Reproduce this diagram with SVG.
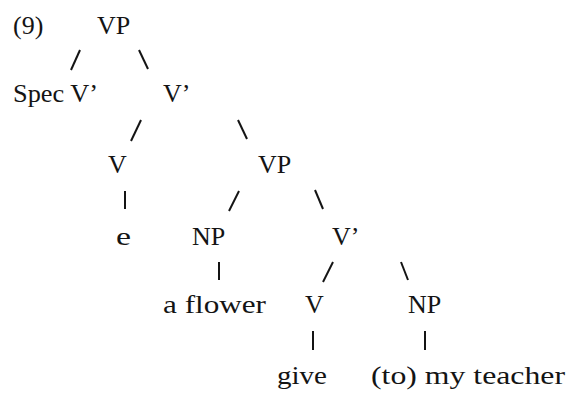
<svg xmlns="http://www.w3.org/2000/svg" width="568" height="397" viewBox="0 0 568 397">
  <style>
    .lbl { font-family: "Liberation Serif", "Times New Roman", serif; font-size: 26px; fill: #141414; }
    .edge { stroke: #141414; stroke-width: 2; stroke-linecap: butt; fill: none; }
  </style>
  <rect width="568" height="397" fill="#ffffff"/>

  <!-- example number -->
  <text class="lbl" x="13" y="34">(9)</text>

  <!-- tree nodes -->
  <g id="vp-top"><text class="lbl" x="97" y="34">VP</text></g>
  <g id="spec"><text class="lbl" x="13" y="102" textLength="85" lengthAdjust="spacingAndGlyphs">Spec V’</text></g>
  <g id="vbar-1"><text class="lbl" x="163" y="102">V’</text></g>
  <g id="v-empty"><text class="lbl" x="108" y="173">V</text></g>
  <g id="vp-lower"><text class="lbl" x="258" y="173">VP</text></g>
  <g id="e"><text class="lbl" x="116" y="245" textLength="15" lengthAdjust="spacingAndGlyphs">e</text></g>
  <g id="np-object"><text class="lbl" x="192" y="245">NP</text></g>
  <g id="vbar-2"><text class="lbl" x="332" y="245">V’</text></g>
  <g id="a-flower"><text class="lbl" x="163" y="313" textLength="103" lengthAdjust="spacingAndGlyphs">a flower</text></g>
  <g id="v-give"><text class="lbl" x="305" y="313">V</text></g>
  <g id="np-goal"><text class="lbl" x="408" y="313">NP</text></g>
  <g id="give"><text class="lbl" x="277" y="384" textLength="50" lengthAdjust="spacingAndGlyphs">give</text></g>
  <g id="my-teacher"><text class="lbl" x="371" y="384" textLength="194" lengthAdjust="spacingAndGlyphs">(to) my teacher</text></g>

  <!-- branches -->
  <g id="connectors" class="edge">
    <line x1="80" y1="50" x2="71" y2="70"/>
    <line x1="139" y1="50" x2="148" y2="69"/>
    <line x1="141" y1="120" x2="131" y2="141"/>
    <line x1="238" y1="120" x2="247" y2="139"/>
    <line x1="125" y1="191" x2="125" y2="209"/>
    <line x1="239" y1="191" x2="229" y2="211"/>
    <line x1="315" y1="190" x2="323" y2="209"/>
    <line x1="219" y1="262" x2="219" y2="280"/>
    <line x1="333" y1="262" x2="323" y2="282"/>
    <line x1="401" y1="262" x2="408" y2="280"/>
    <line x1="313" y1="331" x2="313" y2="350"/>
    <line x1="425" y1="331" x2="425" y2="350"/>
  </g>
</svg>
